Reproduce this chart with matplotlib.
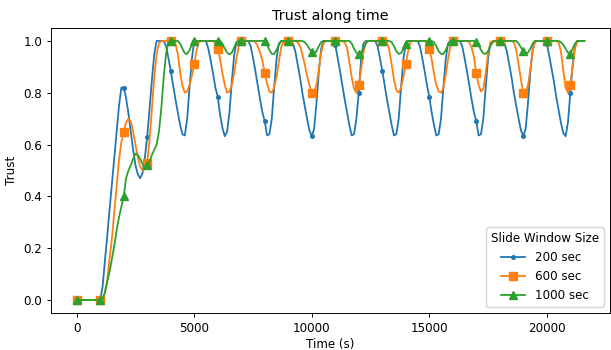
import numpy as np
import matplotlib
matplotlib.use("Agg")
import matplotlib.pyplot as plt

# trust sampled every 100 s (one row = 1000 s)
step = 100

trust_200 = [
    0, 0, 0, 0, 0, 0, 0, 0, 0, 0,
    0, 0.05, 0.15, 0.25, 0.35, 0.45, 0.55, 0.65, 0.75, 0.82,
    0.82, 0.78, 0.72, 0.65, 0.58, 0.52, 0.485, 0.47, 0.49, 0.55,
    0.63, 0.74, 0.85, 0.95, 1.0, 1.0, 1.0, 1.0, 0.98, 0.935,
    0.885, 0.83, 0.775, 0.725, 0.675, 0.64, 0.635, 0.70, 0.82, 0.93,
    1.0, 1.0, 1.0, 1.0, 1.0, 1.0, 0.97, 0.925, 0.875, 0.82,
    0.785, 0.715, 0.665, 0.632, 0.65, 0.725, 0.845, 0.945, 0.995, 1.0,
    1.0, 1.0, 1.0, 1.0, 0.98, 0.935, 0.885, 0.83, 0.775, 0.725,
    0.69, 0.635, 0.64, 0.70, 0.82, 0.93, 0.99, 1.0, 1.0, 1.0,
    1.0, 1.0, 0.99, 0.96, 0.91, 0.86, 0.80, 0.75, 0.70, 0.655,
    0.632, 0.66, 0.76, 0.88, 0.97, 1.0, 1.0, 1.0, 1.0, 1.0,
    0.985, 0.935, 0.885, 0.83, 0.775, 0.725, 0.675, 0.635, 0.64, 0.70,
    0.80, 0.93, 0.99, 1.0, 1.0, 1.0, 1.0, 1.0, 0.98, 0.935,
    0.885, 0.83, 0.775, 0.725, 0.675, 0.635, 0.64, 0.70, 0.82, 0.93,
    0.99, 1.0, 1.0, 1.0, 1.0, 1.0, 0.98, 0.935, 0.885, 0.83,
    0.785, 0.725, 0.675, 0.635, 0.64, 0.70, 0.82, 0.93, 0.99, 1.0,
    1.0, 1.0, 1.0, 1.0, 0.98, 0.935, 0.885, 0.83, 0.775, 0.725,
    0.69, 0.635, 0.64, 0.70, 0.82, 0.93, 0.99, 1.0, 1.0, 1.0,
    1.0, 1.0, 0.99, 0.96, 0.91, 0.86, 0.80, 0.75, 0.70, 0.655,
    0.632, 0.66, 0.76, 0.88, 0.97, 1.0, 1.0, 1.0, 1.0, 1.0,
    0.99, 0.945, 0.895, 0.845, 0.785, 0.735, 0.685, 0.645, 0.632, 0.685,
    0.80, 0.91, 0.98, 1.0, 1.0, 1.0, 1.0,
]

trust_600 = [
    0, 0, 0, 0, 0, 0, 0, 0, 0, 0,
    0, 0.005, 0.025, 0.08, 0.16, 0.24, 0.34, 0.44, 0.54, 0.61,
    0.65, 0.685, 0.70, 0.69, 0.65, 0.60, 0.55, 0.515, 0.50, 0.505,
    0.53, 0.62, 0.74, 0.86, 0.95, 0.99, 1.0, 1.0, 1.0, 1.0,
    1.0, 1.0, 0.99, 0.95, 0.88, 0.825, 0.80, 0.805, 0.83, 0.865,
    0.91, 0.965, 0.995, 1.0, 1.0, 1.0, 1.0, 1.0, 1.0, 0.99,
    0.97, 0.93, 0.875, 0.83, 0.80, 0.805, 0.83, 0.875, 0.935, 0.98,
    1.0, 1.0, 1.0, 1.0, 1.0, 1.0, 0.995, 0.98, 0.955, 0.925,
    0.875, 0.835, 0.805, 0.80, 0.82, 0.86, 0.92, 0.975, 1.0, 1.0,
    1.0, 1.0, 1.0, 1.0, 0.995, 0.98, 0.95, 0.91, 0.865, 0.83,
    0.80, 0.805, 0.83, 0.89, 0.955, 0.99, 1.0, 1.0, 1.0, 1.0,
    1.0, 1.0, 1.0, 1.0, 0.995, 0.975, 0.92, 0.86, 0.815, 0.80,
    0.83, 0.89, 0.955, 0.995, 1.0, 1.0, 1.0, 1.0, 1.0, 1.0,
    1.0, 1.0, 0.995, 0.965, 0.91, 0.85, 0.81, 0.80, 0.82, 0.86,
    0.91, 0.96, 0.995, 1.0, 1.0, 1.0, 1.0, 1.0, 1.0, 0.99,
    0.97, 0.93, 0.875, 0.83, 0.805, 0.80, 0.82, 0.87, 0.93, 0.98,
    1.0, 1.0, 1.0, 1.0, 1.0, 1.0, 1.0, 0.995, 0.975, 0.94,
    0.875, 0.83, 0.805, 0.815, 0.875, 0.95, 0.995, 1.0, 1.0, 1.0,
    1.0, 1.0, 1.0, 1.0, 1.0, 1.0, 0.995, 0.965, 0.91, 0.85,
    0.80, 0.80, 0.83, 0.89, 0.96, 0.995, 1.0, 1.0, 1.0, 1.0,
    1.0, 1.0, 1.0, 1.0, 1.0, 0.995, 0.96, 0.89, 0.82, 0.80,
    0.83, 0.90, 0.97, 1.0, 1.0, 1.0, 1.0,
]

trust_1000 = [
    0, 0, 0, 0, 0, 0, 0, 0, 0, 0,
    0, 0.005, 0.03, 0.07, 0.11, 0.16, 0.21, 0.27, 0.32, 0.36,
    0.40, 0.47, 0.50, 0.52, 0.545, 0.565, 0.56, 0.545, 0.525, 0.51,
    0.52, 0.535, 0.56, 0.58, 0.60, 0.65, 0.74, 0.86, 0.95, 0.995,
    1.0, 1.0, 1.0, 1.0, 0.99, 0.97, 0.952, 0.95, 0.965, 0.985,
    1.0, 1.0, 1.0, 1.0, 1.0, 1.0, 1.0, 1.0, 1.0, 1.0,
    1.0, 1.0, 0.99, 0.97, 0.955, 0.948, 0.955, 0.975, 0.995, 1.0,
    1.0, 1.0, 1.0, 1.0, 1.0, 1.0, 1.0, 1.0, 1.0, 1.0,
    1.0, 0.985, 0.965, 0.95, 0.95, 0.965, 0.985, 1.0, 1.0, 1.0,
    1.0, 1.0, 1.0, 1.0, 1.0, 1.0, 1.0, 0.995, 0.985, 0.97,
    0.958, 0.95, 0.96, 0.98, 0.995, 1.0, 1.0, 1.0, 1.0, 1.0,
    1.0, 1.0, 1.0, 1.0, 1.0, 1.0, 1.0, 0.99, 0.97, 0.955,
    0.948, 0.955, 0.97, 0.99, 1.0, 1.0, 1.0, 1.0, 1.0, 1.0,
    1.0, 1.0, 1.0, 1.0, 0.995, 0.98, 0.96, 0.95, 0.953, 0.97,
    0.99, 1.0, 1.0, 1.0, 1.0, 1.0, 1.0, 1.0, 1.0, 1.0,
    1.0, 1.0, 0.995, 0.98, 0.96, 0.95, 0.95, 0.965, 0.985, 1.0,
    1.0, 1.0, 1.0, 1.0, 1.0, 1.0, 1.0, 1.0, 1.0, 1.0,
    0.995, 0.985, 0.965, 0.952, 0.95, 0.96, 0.98, 0.995, 1.0, 1.0,
    1.0, 1.0, 1.0, 1.0, 1.0, 1.0, 1.0, 1.0, 0.99, 0.975,
    0.96, 0.95, 0.955, 0.97, 0.99, 1.0, 1.0, 1.0, 1.0, 1.0,
    1.0, 1.0, 1.0, 1.0, 1.0, 1.0, 0.995, 0.985, 0.97, 0.955,
    0.95, 0.97, 0.99, 1.0, 1.0, 1.0, 1.0,
]

series = [
    ("200 sec", trust_200, "."),
    ("600 sec", trust_600, "s"),
    ("1000 sec", trust_1000, "^"),
]

# the reference looks like a default figure scaled down a bit
k = 0.86
plt.rcParams.update({
    "font.size": 10 * k,
    "lines.linewidth": 1.5 * k,
    "lines.markersize": 6 * k,
    "axes.linewidth": 0.8 * k,
    "xtick.major.size": 3.5 * k,
    "ytick.major.size": 3.5 * k,
    "xtick.major.width": 0.8 * k,
    "ytick.major.width": 0.8 * k,
})

fig = plt.figure(figsize=(6.11, 3.5), dpi=100)
ax = fig.add_axes([0.084, 0.106, 0.914, 0.814])

for label, vals, mk in series:
    t = np.arange(len(vals)) * step
    ax.plot(t, vals, marker=mk, markevery=10, label=label)

ax.set_title("Trust along time")
ax.set_xlabel("Time (s)", labelpad=2)
ax.set_ylabel("Trust")
ax.legend(title="Slide Window Size", loc="lower right")

fig.savefig("out.png", dpi=100)
